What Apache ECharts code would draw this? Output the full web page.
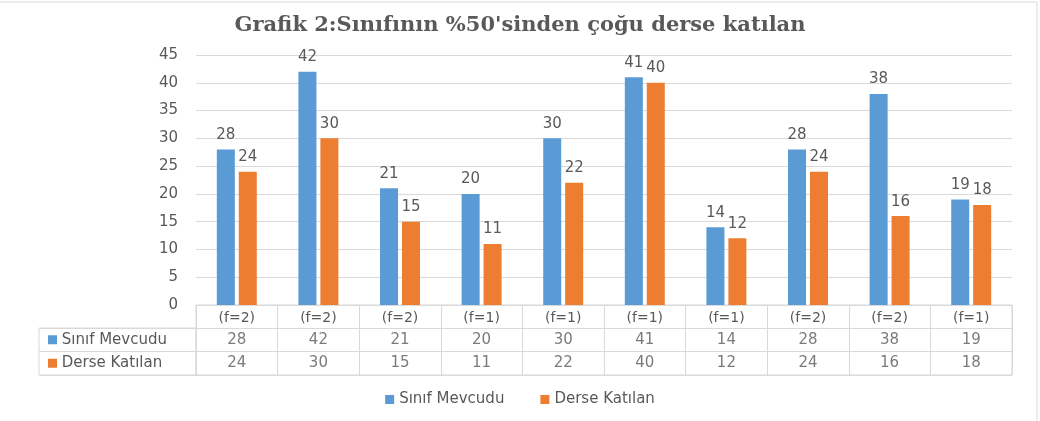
<!DOCTYPE html>
<html><head><meta charset="utf-8">
<script src="https://cdn.jsdelivr.net/npm/echarts@6/dist/echarts.min.js"></script>
<style>html,body{margin:0;padding:0;background:#fff}#c{width:1040px;height:421px}</style>
</head><body><div id="c"></div>
<script>
const categories = ['(f=2)','(f=2)','(f=2)','(f=1)','(f=1)','(f=1)','(f=1)','(f=2)','(f=2)','(f=1)'];
const seriesNames = ['Sınıf Mevcudu','Derse Katılan'];
const sinifMevcudu = [28,42,21,20,30,41,14,28,38,19];
const derseKatilan = [24,30,15,11,22,40,12,24,16,18];
const yTicks = [0,5,10,15,20,25,30,35,40,45];

const colors = ['#5B9BD5','#ED7D31'];
const txt = '#595959';
const lineC = '#D9D9D9';
const font = 'DejaVu Sans';
const fs = 15;
const values = [sinifMevcudu, derseKatilan];

const tableData = [];
values.forEach((arr, r) => arr.forEach((v, i) => tableData.push([i, r + 1, v])));

const chart = echarts.init(document.getElementById('c'));
chart.setOption({
  animation: false,
  textStyle: {fontFamily: font},
  title: {
    text: 'Grafik 2:Sınıfının %50\'sinden çoğu derse katılan',
    left: 'center', top: 10,
    textStyle: {fontFamily: 'DejaVu Serif', fontWeight: 'bold', fontSize: 21, color: txt}
  },
  legend: {
    bottom: 9, left: 'center', itemWidth: 9, itemHeight: 9, itemGap: 36, icon: 'rect',
    textStyle: {fontFamily: font, fontSize: fs, color: txt},
    data: seriesNames
  },
  graphic: [{type: 'rect', shape: {x: -5, y: 2, width: 1042, height: 430}, style: {fill: 'none', stroke: lineC, lineWidth: 1}, silent: true}],
  grid: [
    {left: 196, right: 28, top: 55, bottom: 116},
    {left: 196, right: 28, top: 305, bottom: 46, show: true, borderColor: lineC, borderWidth: 1},
    {left: 39, width: 157, top: 328, bottom: 46, show: true, borderColor: lineC, borderWidth: 1}
  ],
  xAxis: [
    {type: 'category', gridIndex: 0, data: categories,
     axisLine: {lineStyle: {color: lineC}}, axisTick: {show: false},
     axisLabel: {color: txt, fontSize: 14, fontFamily: font, margin: 6}},
    {type: 'category', gridIndex: 1, data: categories.map((_, i) => i),
     axisLine: {show: false}, axisTick: {show: false}, axisLabel: {show: false},
     splitLine: {show: true, lineStyle: {color: lineC}}},
    {type: 'value', gridIndex: 2, show: false}
  ],
  yAxis: [
    {type: 'value', gridIndex: 0, min: yTicks[0], max: yTicks[yTicks.length-1], interval: 5,
     axisLine: {show: false}, axisTick: {show: false},
     axisLabel: {color: txt, fontSize: fs, fontFamily: font, margin: 18},
     splitLine: {lineStyle: {color: lineC}}},
    {type: 'category', gridIndex: 1, inverse: true, data: [0,1,2],
     axisLine: {show: false}, axisTick: {show: false}, axisLabel: {show: false},
     splitLine: {show: true, lineStyle: {color: lineC}}},
    {type: 'category', gridIndex: 2, inverse: true, data: seriesNames,
     axisLine: {show: false}, axisTick: {show: false},
     splitLine: {show: true, lineStyle: {color: lineC}},
     axisLabel: {inside: true, margin: 9, align: 'left', color: txt, fontSize: fs, fontFamily: font,
       formatter: (v, i) => '{s' + i + '|}' + ' ' + v,
       rich: {
         s0: {backgroundColor: colors[0], width: 9, height: 9},
         s1: {backgroundColor: colors[1], width: 9, height: 9}
       }}}
  ],
  series: [
    {name: seriesNames[0], type: 'bar', xAxisIndex: 0, yAxisIndex: 0, data: sinifMevcudu,
     barWidth: 18, barGap: '22%', itemStyle: {color: colors[0]},
     label: {show: true, position: 'top', color: txt, fontSize: fs, fontFamily: font, distance: 7}},
    {name: seriesNames[1], type: 'bar', xAxisIndex: 0, yAxisIndex: 0, data: derseKatilan,
     barWidth: 18, itemStyle: {color: colors[1]},
     label: {show: true, position: 'top', color: txt, fontSize: fs, fontFamily: font, distance: 7}},
    {type: 'scatter', xAxisIndex: 1, yAxisIndex: 1, data: tableData, symbolSize: 0, silent: true,
     label: {show: true, position: 'inside', color: txt, fontSize: fs, fontFamily: font,
       formatter: p => p.value[2]}}
  ]
});
</script></body></html>
